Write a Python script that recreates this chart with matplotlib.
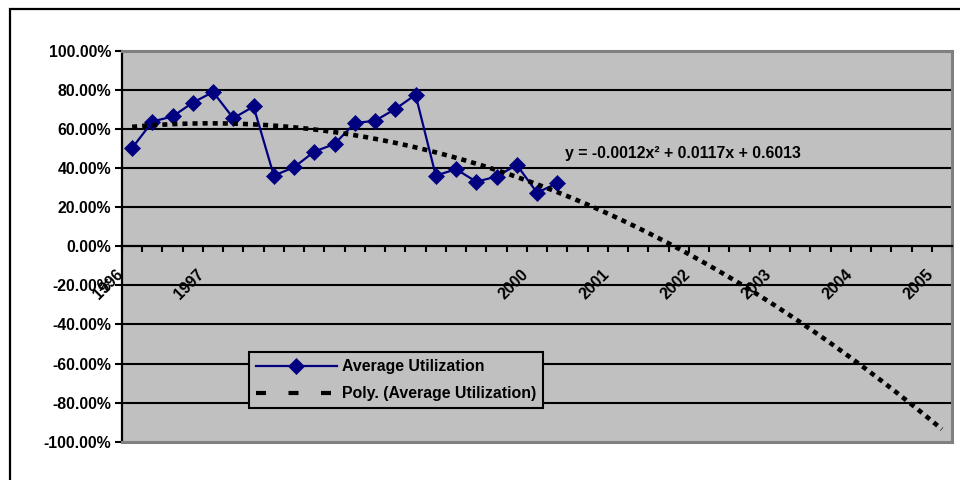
import numpy as np
import matplotlib
matplotlib.use("Agg")
import matplotlib.pyplot as plt
import matplotlib.transforms as mtransforms
from matplotlib.lines import Line2D
from matplotlib.patches import Rectangle
from matplotlib.ticker import FuncFormatter

plt.rcParams['font.family'] = ['Liberation Sans', 'DejaVu Sans']
plt.rcParams['font.weight'] = 'bold'

# Average utilization per period
utilization = [0.503, 0.639, 0.665, 0.736, 0.790, 0.656, 0.716, 0.362, 0.405,
               0.485, 0.524, 0.631, 0.643, 0.703, 0.776, 0.362, 0.395, 0.331,
               0.357, 0.417, 0.275, 0.323]

# Second-order polynomial trend, forecast out to period 41
trend_coef = [-0.0012, 0.0117, 0.6013]
n_periods = 41

# Category axis labels (only some periods carry a year label)
label_periods = [1, 5, 21, 25, 29, 33, 37, 41]
label_years = ["1996", "1997", "2000", "2001", "2002", "2003", "2004", "2005"]

y_ticks = [-1.0, -0.8, -0.6, -0.4, -0.2, 0.0, 0.2, 0.4, 0.6, 0.8, 1.0]

series_name = "Average Utilization"
trend_name = "Poly. (Average Utilization)"

NAVY = '#000080'
PLOT_BG = '#C0C0C0'
FRAME_GRAY = '#808080'
FS = 11.4

fig = plt.figure(figsize=(9.6, 4.8), dpi=100)
ax = fig.add_axes([122 / 960, 1 - 441.7 / 480, 830 / 960, 390.7 / 480])
ax.set_facecolor(PLOT_BG)

# Series
x_data = np.arange(1, len(utilization) + 1)
ax.plot(x_data, utilization, color=NAVY, lw=1.6, marker='D', ms=7.8,
        mfc=NAVY, mec=NAVY, mew=0.5, zorder=3)

# Trendline
xt = np.linspace(1, n_periods, 500)
yt = np.polyval(trend_coef, xt)
ax.plot(xt, yt, color='black', lw=3.3, linestyle=(0, (1.1, 1.1)),
        dash_capstyle='butt', zorder=4)

ax.set_xlim(0.5, n_periods + 0.5)
ax.set_ylim(-1.0, 1.0)

# Horizontal gridlines
for v in y_ticks:
    if v not in (-1.0, 0.0, 1.0):
        ax.axhline(v, color='black', lw=1.5, zorder=1)

# Axes lines and plot-area frame
ax.spines['left'].set_color('black')
ax.spines['left'].set_linewidth(1.6)
ax.spines['bottom'].set_position(('data', 0))
ax.spines['bottom'].set_color('black')
ax.spines['bottom'].set_linewidth(1.6)
for s in ('top', 'right'):
    ax.spines[s].set_color(FRAME_GRAY)
    ax.spines[s].set_linewidth(2.2)
ax.axhline(-1.0, color=FRAME_GRAY, lw=2.2, zorder=2.6, clip_on=False)

# Y axis
ax.set_yticks(y_ticks)
ax.yaxis.set_major_formatter(FuncFormatter(lambda v, p: f"{v * 100:.2f}%"))
ax.tick_params(axis='y', length=5, width=1.5, pad=3, labelsize=FS,
               colors='black')

# X axis: tick marks between categories, rotated year labels
ax.set_xticks(np.arange(0.5, n_periods + 1, 1.0))
ax.tick_params(axis='x', which='major', length=4, width=1.5,
               direction='out', labelbottom=False)
label_offset = mtransforms.ScaledTranslation(-0.11, -0.26, fig.dpi_scale_trans)
for p, yr in zip(label_periods, label_years):
    ax.text(p, 0, yr, transform=ax.transData + label_offset, rotation=45,
            ha='right', va='center', rotation_mode='anchor', fontsize=FS,
            fontweight='bold', zorder=5)

# Trendline equation
a, b, c = trend_coef
eq = f"y = {a:.4f}x\u00b2 + {b:.4f}x + {c:.4f}"
ax.text(0.534, 0.726, eq, transform=ax.transAxes, ha='left', va='baseline',
        fontsize=FS, fontweight='bold', zorder=5)

# Legend
handles = [
    Line2D([], [], color=NAVY, lw=1.6, marker='D', ms=7.8, mfc=NAVY,
           mec=NAVY, mew=0.5),
    Line2D([], [], color='black', lw=3.0, linestyle=(0, (2.4, 5.4)),
           dash_capstyle='butt'),
]
leg = ax.legend(handles, [series_name, trend_name], loc='upper left',
                bbox_to_anchor=(0.153, 0.229), borderaxespad=0,
                frameon=True, fancybox=False, facecolor=PLOT_BG,
                edgecolor='black', framealpha=1, handlelength=5.1,
                handletextpad=0.3, labelspacing=0.75, borderpad=0.45,
                numpoints=1, prop={'size': FS, 'weight': 'bold'})
leg.get_frame().set_linewidth(1.5)
leg.set_zorder(6)

# Chart-area border
fig.add_artist(Rectangle((10 / 960, -0.5), 2.0, 0.5 + (1 - 9 / 480),
                         transform=fig.transFigure, fill=False,
                         ec='black', lw=1.6, clip_on=False))

fig.savefig("out.png", dpi=100, facecolor='white')
